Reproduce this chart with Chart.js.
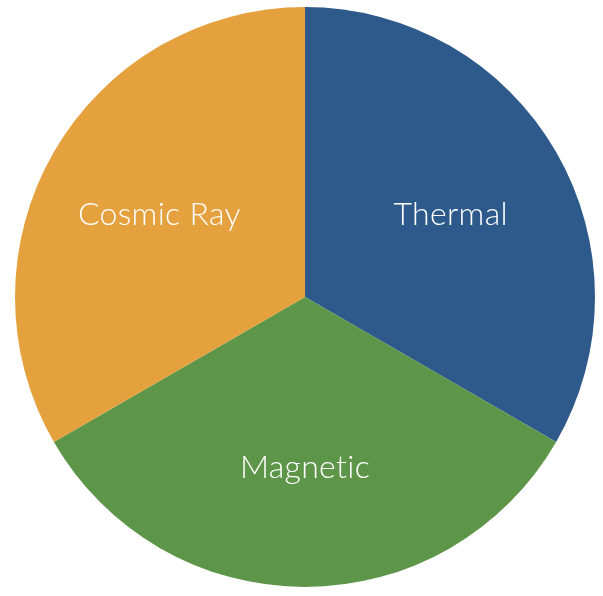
<!DOCTYPE html>
<html>
<head>
<meta charset="utf-8">
<script src="https://cdn.jsdelivr.net/npm/chart.js@4"></script>
<style>
  html, body { margin: 0; padding: 0; background: #fff; }
  #wrap { width: 603px; height: 596px; }
</style>
</head>
<body>
<div id="wrap"><canvas id="pieChart"></canvas></div>
<script>
const labels = ["Thermal", "Magnetic", "Cosmic Ray"];
const shares = [1, 1, 1];
const colors = ["#2d5a8b", "#5e9649", "#e5a13d"];

// slice names written inside each slice, a bit past mid-radius
const sliceLabels = {
  id: "sliceLabels",
  afterDatasetsDraw(chart) {
    const ctx = chart.ctx;
    const meta = chart.getDatasetMeta(0);
    ctx.save();
    ctx.fillStyle = "#ffffff";
    ctx.font = "300 32px Lato, 'Open Sans', sans-serif";
    ctx.letterSpacing = "0.3px"; // keeps "ti" from joining
    ctx.textAlign = "center";
    ctx.textBaseline = "middle";
    meta.data.forEach((arc, i) => {
      const p = arc.getProps(["x", "y", "startAngle", "endAngle", "outerRadius"], true);
      const mid = (p.startAngle + p.endAngle) / 2;
      const r = p.outerRadius * 0.58;
      ctx.fillText(chart.data.labels[i], p.x + Math.cos(mid) * r, p.y + Math.sin(mid) * r + 2);
    });
    ctx.restore();
  }
};

new Chart(document.querySelector("#pieChart"), {
  type: "pie",
  data: {
    labels: labels,
    datasets: [{
      data: shares,
      backgroundColor: colors,
      borderWidth: 0
    }]
  },
  options: {
    responsive: true,
    maintainAspectRatio: false,
    animation: false,
    layout: { padding: { top: 7, bottom: 9, left: 15, right: 8 } },
    plugins: {
      legend: { display: false },
      tooltip: { enabled: false }
    }
  },
  plugins: [sliceLabels]
});
</script>
</body>
</html>
